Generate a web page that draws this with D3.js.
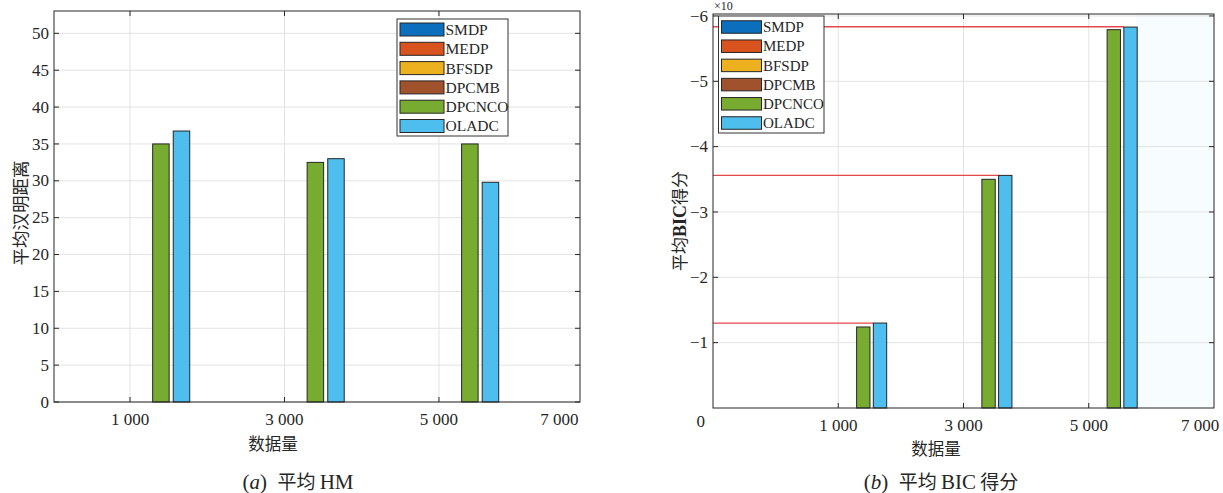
<!DOCTYPE html>
<html>
<head>
<meta charset="utf-8">
<script src="https://cdn.jsdelivr.net/npm/d3@7/dist/d3.min.js"></script>
<style>
  html, body { margin: 0; padding: 0; background: #fff; }
  svg { display: block; }
  text { font-family: "Liberation Serif", "DejaVu Serif", serif; fill: #262626; }
  .cjk { font-family: "Noto Sans CJK SC", sans-serif; }
</style>
</head>
<body>
<svg id="chart" width="1223" height="493"></svg>
<script>
// ---------------- DATA ----------------
const seriesNames = ["SMDP", "MEDP", "BFSDP", "DPCMB", "DPCNCO", "OLADC"];
const seriesColors = ["#0b6fbd", "#d9531e", "#edb120", "#a0522d", "#77ac30", "#4dbeee"];
const categories = ["1 000", "3 000", "5 000"];
const xTickLabels = ["1 000", "3 000", "5 000", "7 000"];

// (a) average Hamming distance
const hmSMDP   = [null, null, null];
const hmMEDP   = [null, null, null];
const hmBFSDP  = [null, null, null];
const hmDPCMB  = [null, null, null];
const hmDPCNCO = [35.0, 32.5, 35.0];
const hmOLADC  = [36.75, 33.0, 29.8];
const hmYTicks = [0, 5, 10, 15, 20, 25, 30, 35, 40, 45, 50];

// (b) average BIC score (x10^n)
const bicSMDP   = [null, null, null];
const bicMEDP   = [null, null, null];
const bicBFSDP  = [null, null, null];
const bicDPCMB  = [null, null, null];
const bicDPCNCO = [-1.24, -3.50, -5.79];
const bicOLADC  = [-1.30, -3.56, -5.83];
const bicRefLines = [-1.30, -3.56, -5.835];
const bicYTicks = [-1, -2, -3, -4, -5, -6];

// ---------------- DRAW ----------------
const svg = d3.select("#chart");
const axisColor = "#262626";
const gridColor = "#e3e3e3";

function drawPanel(cfg) {
  const g = svg.append("g");
  const {x0, x1, y0, y1} = cfg;
  const x = d3.scaleLinear().domain(cfg.xDomain).range([x0, x1]);
  const y = d3.scaleLinear().domain(cfg.yDomain).range([y0, y1]);

  g.append("rect").attr("x", x0).attr("y", y1).attr("width", x1 - x0).attr("height", y0 - y1).attr("fill", "#fff");
  if (cfg.tint) {
    g.append("rect").attr("x", cfg.tint).attr("y", y1).attr("width", x1 - cfg.tint).attr("height", y0 - y1)
      .attr("fill", "#f7fcfe");
  }

  // grid
  g.append("g").selectAll("line").data(cfg.yTicks).join("line")
    .attr("x1", x0).attr("x2", x1).attr("y1", d => y(d)).attr("y2", d => y(d))
    .attr("stroke", gridColor).attr("stroke-width", 1);
  g.append("g").selectAll("line").data(categories).join("line")
    .attr("x1", (d, i) => x(i + 1)).attr("x2", (d, i) => x(i + 1)).attr("y1", y0).attr("y2", y1)
    .attr("stroke", gridColor).attr("stroke-width", 1);

  // bars
  const gw = 0.8 * (x(2) - x(1));
  const inner = d3.scaleBand().domain(seriesNames).range([-gw / 2, gw / 2]).paddingInner(0.2).paddingOuter(0.1);
  const barData = [];
  cfg.series.forEach((vals, si) => {
    vals.forEach((v, ci) => {
      if (v === null) return;
      barData.push({s: seriesNames[si], color: seriesColors[si], ci, v});
    });
  });

  if (cfg.refLines) {
    g.append("g").selectAll("line").data(cfg.refLines).join("line")
      .attr("x1", x0)
      .attr("x2", (d, i) => x(i + 1) + inner("OLADC"))
      .attr("y1", d => y(d)).attr("y2", d => y(d))
      .attr("stroke", "#e4484a").attr("stroke-width", 1.3);
  }

  g.append("g").selectAll("rect").data(barData).join("rect")
    .attr("x", d => x(d.ci + 1) + inner(d.s))
    .attr("width", inner.bandwidth())
    .attr("y", d => Math.min(y(d.v), y(0)))
    .attr("height", d => Math.abs(y(0) - y(d.v)))
    .attr("fill", d => d.color)
    .attr("stroke", "#262626").attr("stroke-width", 1);

  // box
  g.append("rect").attr("x", x0).attr("y", y1).attr("width", x1 - x0).attr("height", y0 - y1)
    .attr("fill", "none").attr("stroke", axisColor).attr("stroke-width", 1);

  // ticks (inward on all four sides)
  const tl = 5;
  g.append("g").selectAll("path").data(cfg.yTicks).join("path")
    .attr("d", d => `M${x0},${y(d)}h${tl}M${x1},${y(d)}h${-tl}`)
    .attr("stroke", axisColor).attr("stroke-width", 1);
  g.append("g").selectAll("path").data(categories).join("path")
    .attr("d", (d, i) => `M${x(i + 1)},${y0}v${-tl}M${x(i + 1)},${y1}v${tl}`)
    .attr("stroke", axisColor).attr("stroke-width", 1);

  // y tick labels
  g.append("g").selectAll("text").data(cfg.yTicks).join("text")
    .attr("x", x0 - 5).attr("y", d => y(d)).attr("dy", "0.33em")
    .attr("text-anchor", "end").attr("font-size", 17)
    .text(cfg.yFormat);

  // x tick labels
  g.append("g").selectAll("text").data(xTickLabels).join("text")
    .attr("x", (d, i) => x(cfg.xLabelPos[i])).attr("y", y0 + 23)
    .attr("text-anchor", "middle").attr("font-size", 17)
    .text(d => d);

  // legend
  const L = cfg.legend;
  const lg = g.append("g").attr("transform", `translate(${L.x},${L.y})`);
  lg.append("rect").attr("width", L.w).attr("height", L.h).attr("fill", "#fff")
    .attr("stroke", "#333").attr("stroke-width", 1);
  const rows = lg.selectAll("g").data(seriesNames).join("g")
    .attr("transform", (d, i) => `translate(0,${L.top + i * L.pitch})`);
  rows.append("rect").attr("x", L.sx).attr("y", -L.sh / 2).attr("width", L.sw).attr("height", L.sh)
    .attr("fill", (d, i) => seriesColors[i]).attr("stroke", "#262626").attr("stroke-width", 1);
  rows.append("text").attr("x", L.sx + L.sw + 1.5).attr("dy", "0.35em")
    .attr("font-size", L.fs).attr("fill", "#111").text(d => d);

  return {g, x, y};
}

// Panel (a)
const pa = drawPanel({
  x0: 54, x1: 580, y0: 402, y1: 11,
  xDomain: [0.508, 3.913], yDomain: [0, 53.03],
  yTicks: hmYTicks, yFormat: d => d,
  xLabelPos: [1, 2, 3, 3.78],
  series: [hmSMDP, hmMEDP, hmBFSDP, hmDPCMB, hmDPCNCO, hmOLADC],
  legend: {x: 397, y: 19, w: 111, h: 117, top: 10.5, pitch: 19.3, sx: 3, sw: 44, sh: 13, fs: 15.5}
});

// Panel (b)
const pb = drawPanel({
  x0: 713, x1: 1214, y0: 408, y1: 14,
  xDomain: [0, 4], yDomain: [0, -6.03],
  yTicks: bicYTicks, yFormat: d => "\u2212" + Math.abs(d),
  xLabelPos: [1, 2, 3, 3.89],
  tint: 1136,
  refLines: bicRefLines,
  series: [bicSMDP, bicMEDP, bicBFSDP, bicDPCMB, bicDPCNCO, bicOLADC],
  legend: {x: 718.5, y: 16, w: 105.5, h: 117, top: 11, pitch: 19.2, sx: 3, sw: 40, sh: 12.5, fs: 15}
});

// "0" label of panel (b) at the corner
svg.append("text").attr("x", 705).attr("y", pb.y(0) + 13).attr("dy", "0.33em")
  .attr("text-anchor", "end").attr("font-size", 17).text("0");

// exponent label
svg.append("text").attr("x", 714).attr("y", 10).attr("font-size", 12).text("\u00d710");

// axis titles
svg.append("text").attr("class", "cjk").attr("transform", "translate(27,213) rotate(-90)")
  .attr("text-anchor", "middle").attr("font-size", 17.5).text("平均汉明距离");

const yb = svg.append("text").attr("transform", "translate(686,221) rotate(-90)")
  .attr("text-anchor", "middle").attr("font-size", 17);
yb.append("tspan").attr("class", "cjk").text("平均");
yb.append("tspan").attr("font-weight", "bold").attr("font-size", 18).text("BIC");
yb.append("tspan").attr("class", "cjk").text("得分");

svg.append("text").attr("class", "cjk").attr("x", 273).attr("y", 450)
  .attr("text-anchor", "middle").attr("font-size", 16.5).text("数据量");
svg.append("text").attr("class", "cjk").attr("x", 936).attr("y", 455)
  .attr("text-anchor", "middle").attr("font-size", 16.5).text("数据量");

// captions
function caption(cx, letter, parts) {
  const t = svg.append("text").attr("x", cx).attr("y", 489).attr("text-anchor", "middle").attr("font-size", 21);
  t.append("tspan").text("(");
  t.append("tspan").attr("font-style", "italic").text(letter);
  t.append("tspan").text(")\u2002");
  parts.forEach(p => t.append("tspan").attr("class", p.cjk ? "cjk" : null)
    .attr("font-size", p.cjk ? 19 : 21).text(p.t));
}
caption(298, "a", [{t: "平均", cjk: true}, {t: "\u2009HM"}]);
caption(941, "b", [{t: "平均", cjk: true}, {t: "\u2009BIC\u2009"}, {t: "得分", cjk: true}]);
</script>
</body>
</html>
